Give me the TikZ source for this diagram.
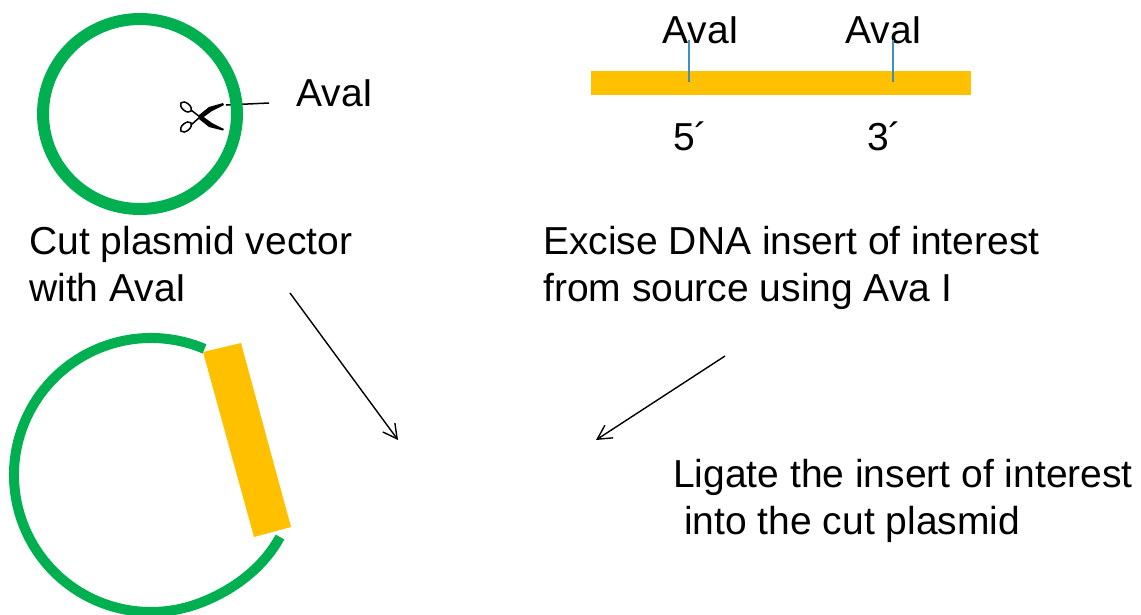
\documentclass[tikz,border=0pt]{standalone}
\usepackage{fontspec}
\setmainfont{Liberation Sans}
\usetikzlibrary{arrows.meta}
\definecolor{plasmidgreen}{HTML}{00B050}
\definecolor{insertorange}{HTML}{FFC000}
\definecolor{siteblue}{HTML}{3F8FC4}
\tikzset{
	lbl/.style={inner sep=0pt, anchor=base west, font=\fontsize{39}{46.5}\selectfont, align=left},
	ring/.style={draw=plasmidgreen, line width=10pt},
	site/.style={draw=siteblue, line width=1.5pt},
	step arrow/.style={-{Straight Barb[length=14pt,width=15pt,line width=1.4pt]}, line width=1.4pt, black}
}

\begin{document}
\begin{tikzpicture}[x=1pt,y=1pt]
	\useasboundingbox (0,0) rectangle (1141,-614);
	
	% uncut plasmid and scissors
	\coordinate (c1) at (140,-114);
	\coordinate (lineA) at (226,-105);
	\node[lbl] (ava1) at (296,-106) {AvaI};
	\coordinate (lineB) at (269,-103);
	\draw[line width=1.5pt] (lineA) -- (lineB);
	\draw[ring, line width=12pt] (c1) ellipse (97 and 95);
	
	\fill (199,-115) -- (209,-107) -- (223,-103) -- (224,-105) -- (212,-111) -- (201,-119) -- cycle;
	\fill (199,-119) -- (209,-127) -- (223,-130.5) -- (224,-129) -- (212,-123) -- (201,-115) -- cycle;
	\draw[line width=1.5pt] (200,-117) -- (191,-125);
	\draw[line width=1.5pt] (200,-117) -- (191,-110);
	\draw[line width=1.5pt, rotate around={-40:(186,-107)}] (186,-107) ellipse (6.5 and 3.8);
	\draw[line width=1.5pt, rotate around={40:(186,-127)}] (186,-127) ellipse (6.5 and 3.8);
	
	% insert with its two sites
	\node[fill=insertorange, minimum width=380pt, minimum height=24pt, inner sep=0pt] (bar) at (781,-83) {};
	\node[lbl] (ava2) at (662,-43) {AvaI};
	\node[lbl] (ava3) at (845,-43) {AvaI};
	\coordinate (siteA) at (689,-40);
	\coordinate (siteB) at (893,-40);
	\draw[site] (siteA) -- (689,-82);
	\draw[site] (siteB) -- (893,-82);
	\node[lbl] (five) at (673,-150) {5´};
	\node[lbl] (three) at (867,-150) {3´};
	
	% captions
	\node[lbl] (cut) at (29,-301) {Cut plasmid vector\\with AvaI};
	\node[lbl] (excise) at (543,-301) {Excise DNA insert of interest\\from source using Ava I};
	\node[lbl] (ligate) at (673,-534) {Ligate the insert of interest\\\hspace*{11pt}into the cut plasmid};
	
	% ligated plasmid
	\coordinate (c2) at (151,-475);
	\draw[ring] (c2) ++(67:137) arc (67:290:137) .. controls (230,-592) and (262,-570) .. (280,-537);
	\fill[insertorange] (203,-352) -- (241,-343) -- (291,-527) -- (254,-537) -- cycle;
	
	% arrows
	\coordinate (a0) at (290,-293);
	\coordinate (a1) at (398,-440);
	\coordinate (b0) at (725,-356);
	\coordinate (b1) at (596,-440);
	\draw[step arrow] (a0) -- (a1);
	\draw[step arrow] (b0) -- (b1);
\end{tikzpicture}
\end{document}
